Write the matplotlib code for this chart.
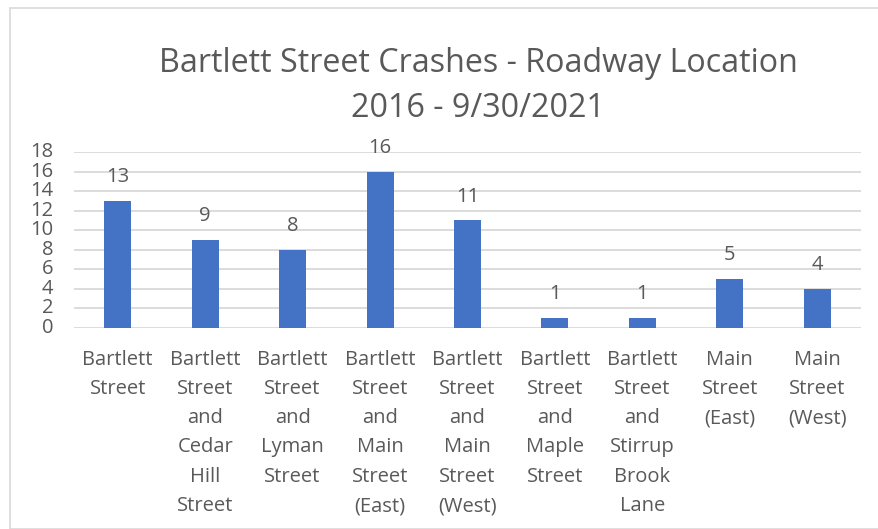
import matplotlib.pyplot as plt
from matplotlib.patches import Rectangle

# ---------- data ----------
categories = [
    "Bartlett\nStreet",
    "Bartlett\nStreet\nand\nCedar\nHill\nStreet",
    "Bartlett\nStreet\nand\nLyman\nStreet",
    "Bartlett\nStreet\nand\nMain\nStreet\n(East)",
    "Bartlett\nStreet\nand\nMain\nStreet\n(West)",
    "Bartlett\nStreet\nand\nMaple\nStreet",
    "Bartlett\nStreet\nand\nStirrup\nBrook\nLane",
    "Main\nStreet\n(East)",
    "Main\nStreet\n(West)",
]
crashes = [13, 9, 8, 16, 11, 1, 1, 5, 4]
yticks = list(range(0, 19, 2))

TEXT = '#595959'
BAR = '#4472C4'
GRID = '#d9d9d9'
plt.rcParams['font.family'] = ['Open Sans', 'DejaVu Sans']

fig = plt.figure(figsize=(8.79, 5.29), dpi=100)
ax = fig.add_axes([74/879, 1 - 328/529, (861-74)/879, (328-152)/529])

# chart frame
fig.patches.append(Rectangle((10/879, 0), 1, 1 - 8/529, transform=fig.transFigure,
                             fill=False, edgecolor=GRID, lw=1.2))

x = range(len(categories))
ax.bar(x, crashes, width=0.31, color=BAR, zorder=3)
for xi, v in zip(x, crashes):
    ax.annotate(str(v), (xi, v), xytext=(0, 10), textcoords='offset points',
                ha='center', va='bottom', fontsize=14.5, color=TEXT)

ax.set_xlim(-0.5, len(categories) - 0.5)
ax.set_ylim(0, 18)
ax.set_yticks(yticks)
ax.set_yticklabels([str(t) for t in yticks], fontsize=14.5, color=TEXT)
ax.set_xticks(list(x))
ax.set_xticklabels(categories, fontsize=14.5, color=TEXT, linespacing=1.62, va='top')
ax.tick_params(axis='both', length=0)
ax.tick_params(axis='x', pad=15.5)
ax.tick_params(axis='y', pad=15)
for lab in ax.get_yticklabels():
    lab.set_verticalalignment('center')

ax.grid(axis='y', color=GRID, lw=1.3, zorder=0)
for s in ax.spines.values():
    s.set_visible(False)

fig.text(478/879, 1 - 86/529, "Bartlett Street Crashes - Roadway Location\n2016 - 9/30/2021",
         ha='center', va='center', fontsize=23.2, color=TEXT, linespacing=1.45)

fig.savefig('out.png', dpi=100)
